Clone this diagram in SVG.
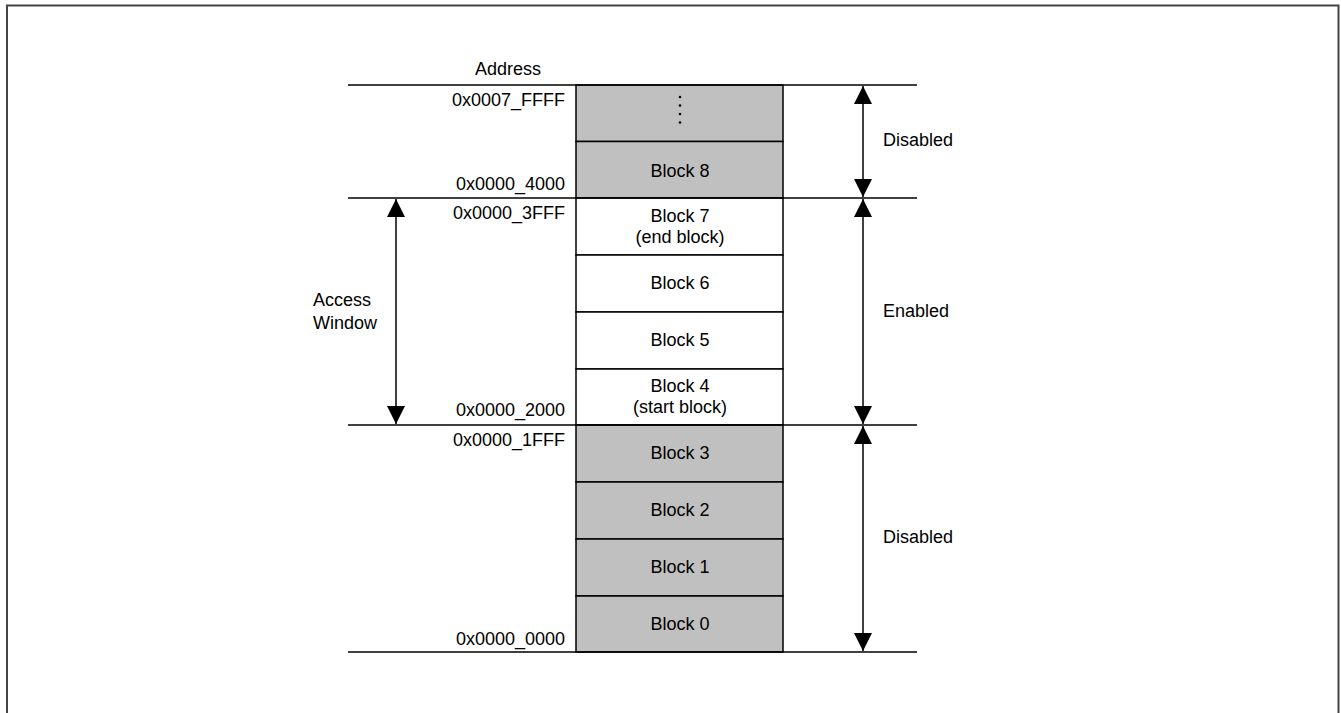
<svg xmlns="http://www.w3.org/2000/svg" width="1341" height="713" viewBox="0 0 1341 713">
<style>
text{font-family:"Liberation Sans",Arial,sans-serif;font-size:18px;fill:#000}
.r{text-anchor:end}
.c{text-anchor:middle}
.g{fill:#c0c0c0;stroke:#000;stroke-width:1.5}
.w{fill:#fff;stroke:#000;stroke-width:1.5}
.ln{stroke:#000;stroke-width:1.5;fill:none}
</style>
<defs>
<marker id="ah" viewBox="0 0 10 10" refX="10" refY="5" markerWidth="18" markerHeight="18" markerUnits="userSpaceOnUse" orient="auto-start-reverse">
<path d="M0,0 L10,5 L0,10 z" fill="#000"/>
</marker>
</defs>
<rect width="1341" height="713" fill="#fff"/>
<path d="M7,713 V5.5 H1338.5 V713" fill="none" stroke="#444" stroke-width="2"/>
<text x="508" y="75" class="c">Address</text>
<g id="blk-dots"><rect class="g" x="576" y="85" width="207" height="56.5"/>
<circle cx="680" cy="97" r="1.3"/><circle cx="680" cy="105.5" r="1.3"/><circle cx="680" cy="114" r="1.3"/><circle cx="680" cy="122.5" r="1.3"/></g>
<g id="blk8"><rect class="g" x="576" y="141.5" width="207" height="56.5"/><text x="680" y="176.5" class="c">Block 8</text></g>
<g id="blk7"><rect class="w" x="576" y="198" width="207" height="57"/><text x="680" y="221.5" class="c">Block 7</text><text x="680" y="242.5" class="c">(end block)</text></g>
<g id="blk6"><rect class="w" x="576" y="255" width="207" height="57"/><text x="680" y="289" class="c">Block 6</text></g>
<g id="blk5"><rect class="w" x="576" y="312" width="207" height="57"/><text x="680" y="346" class="c">Block 5</text></g>
<g id="blk4"><rect class="w" x="576" y="369" width="207" height="56"/><text x="680" y="392" class="c">Block 4</text><text x="680" y="413" class="c">(start block)</text></g>
<g id="blk3"><rect class="g" x="576" y="425" width="207" height="57"/><text x="680" y="459" class="c">Block 3</text></g>
<g id="blk2"><rect class="g" x="576" y="482" width="207" height="57"/><text x="680" y="516" class="c">Block 2</text></g>
<g id="blk1"><rect class="g" x="576" y="539" width="207" height="57"/><text x="680" y="573" class="c">Block 1</text></g>
<g id="blk0"><rect class="g" x="576" y="596" width="207" height="56"/><text x="680" y="629.5" class="c">Block 0</text></g>
<g id="addresses">
<text x="565" y="106" class="r">0x0007_FFFF</text>
<text x="565" y="190" class="r">0x0000_4000</text>
<text x="565" y="219" class="r">0x0000_3FFF</text>
<text x="565" y="416" class="r">0x0000_2000</text>
<text x="565" y="446" class="r">0x0000_1FFF</text>
<text x="565" y="645" class="r">0x0000_0000</text>
</g>
<g id="connectors">
<line class="ln" x1="348" y1="85" x2="917" y2="85"/>
<line class="ln" x1="348" y1="198" x2="917" y2="198"/>
<line class="ln" x1="348" y1="425" x2="917" y2="425"/>
<line class="ln" x1="348" y1="652" x2="917" y2="652"/>
<line class="ln" x1="863" y1="86" x2="863" y2="197" marker-start="url(#ah)" marker-end="url(#ah)"/>
<line class="ln" x1="863" y1="199" x2="863" y2="424" marker-start="url(#ah)" marker-end="url(#ah)"/>
<line class="ln" x1="863" y1="426" x2="863" y2="651" marker-start="url(#ah)" marker-end="url(#ah)"/>
<line class="ln" x1="396" y1="199" x2="396" y2="424" marker-start="url(#ah)" marker-end="url(#ah)"/>
</g>
<g id="labels">
<text x="883" y="146">Disabled</text>
<text x="883" y="317">Enabled</text>
<text x="883" y="543">Disabled</text>
<text x="313" y="306">Access</text>
<text x="313" y="329">Window</text>
</g>
</svg>
